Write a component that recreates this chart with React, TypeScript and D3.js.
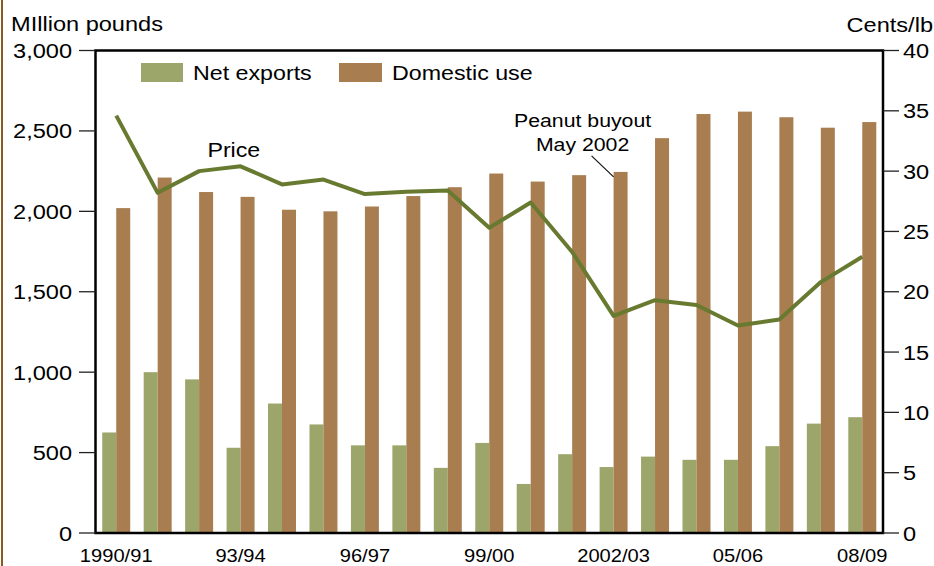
import React, { useEffect, useRef } from 'react';
import * as d3 from 'd3';

const years = [
  '1990/91', '91/92', '92/93', '93/94', '94/95', '95/96', '96/97', '97/98', '98/99', '99/00',
  '2000/01', '01/02', '2002/03', '03/04', '04/05', '05/06', '06/07', '07/08', '08/09',
];
const shownYears = ['1990/91', '93/94', '96/97', '99/00', '2002/03', '05/06', '08/09'];

// million pounds
const netExports = [625, 1000, 955, 530, 805, 675, 545, 545, 405, 560, 305, 490, 410, 475, 455, 455, 540, 680, 720];
const domesticUse = [2020, 2210, 2120, 2090, 2010, 2000, 2030, 2095, 2150, 2235, 2185, 2225, 2245, 2455, 2605, 2620, 2585, 2520, 2555];
// cents per pound
const price = [34.6, 28.2, 30.0, 30.4, 28.9, 29.3, 28.1, 28.3, 28.4, 25.3, 27.4, 23.3, 18.0, 19.3, 18.9, 17.2, 17.7, 20.8, 22.9];

const leftTicks = [0, 500, 1000, 1500, 2000, 2500, 3000];
const rightTicks = [0, 5, 10, 15, 20, 25, 30, 35, 40];

const W = 934;
const H = 566;
const SX = 1.15; // the source art is stretched sideways a bit
const FONT = '"Liberation Sans", Arial, Helvetica, sans-serif';
const GREEN = '#9ca66b';
const BROWN = '#a87d4f';
const LINE = '#687a30';

export default function App() {
  const svgRef = useRef<SVGSVGElement | null>(null);

  useEffect(() => {
    if (!svgRef.current) return;
    const svg = d3.select(svgRef.current);
    svg.selectAll('*').remove();

    const left = 95.5;
    const right = 883;
    const top = 50.5;
    const bottom = 533;

    const x = d3.scaleBand<string>()
      .domain(years)
      .range([left, right])
      .paddingInner(0.325)
      .paddingOuter(0.1625);
    const bw = x.bandwidth();
    const yL = d3.scaleLinear().domain([0, 3000]).range([bottom, top]);
    const yR = d3.scaleLinear().domain([0, 40]).range([bottom, top]);

    const text = (
      g: d3.Selection<any, any, any, any>,
      tx: number, ty: number, s: string, size: number, anchor = 'start'
    ) => g.append('text')
      .attr('transform', `translate(${tx},${ty}) scale(${SX},1)`)
      .attr('text-anchor', anchor)
      .style('font-family', FONT)
      .style('font-size', `${size}px`)
      .style('fill', '#000')
      .text(s);

    // brown rule on the left edge
    svg.append('rect').attr('x', 1).attr('y', 0).attr('width', 2).attr('height', H).style('fill', '#8b5a22');

    // bars
    const groups = svg.append('g').selectAll('g')
      .data(years)
      .enter()
      .append('g');
    groups.append('rect')
      .attr('x', d => x(d)!)
      .attr('y', (d, i) => yL(netExports[i]))
      .attr('width', bw / 2)
      .attr('height', (d, i) => bottom - yL(netExports[i]))
      .style('fill', GREEN);
    groups.append('rect')
      .attr('x', d => x(d)! + bw / 2)
      .attr('y', (d, i) => yL(domesticUse[i]))
      .attr('width', bw / 2)
      .attr('height', (d, i) => bottom - yL(domesticUse[i]))
      .style('fill', BROWN);

    // price line
    const line = d3.line<number>()
      .x((d, i) => x(years[i])! + bw / 2)
      .y(d => yR(d));
    svg.append('path')
      .datum(price)
      .attr('d', line)
      .style('fill', 'none')
      .style('stroke', LINE)
      .style('stroke-width', 4)
      .style('stroke-linejoin', 'round');

    // frame
    svg.append('rect')
      .attr('x', left).attr('y', top)
      .attr('width', right - left).attr('height', bottom - top)
      .style('fill', 'none').style('stroke', '#000').style('stroke-width', 2.5);

    // left axis
    const gl = svg.append('g');
    leftTicks.forEach(t => {
      gl.append('line').attr('x1', 79).attr('x2', left).attr('y1', yL(t)).attr('y2', yL(t))
        .style('stroke', '#222').style('stroke-width', 1.3);
      text(gl, 72, yL(t) + 7.5, d3.format(',')(t), 20.5, 'end');
    });

    // right axis
    const gr = svg.append('g');
    rightTicks.forEach(t => {
      gr.append('line').attr('x1', right).attr('x2', 899).attr('y1', yR(t)).attr('y2', yR(t))
        .style('stroke', '#222').style('stroke-width', 1.3);
      text(gr, 903, yR(t) + 7.5, String(t), 20.5, 'start');
    });

    // x labels
    const gx = svg.append('g');
    shownYears.forEach(s => {
      text(gx, x(s)! + bw / 2, 561.5, s, 17.5, 'middle');
    });

    // axis titles
    text(svg, 11, 30.5, 'MIllion pounds', 20.5);
    text(svg, 933, 31.5, 'Cents/lb', 20.5, 'end');

    // legend
    svg.append('rect').attr('x', 141).attr('y', 63).attr('width', 42).attr('height', 19).style('fill', GREEN);
    text(svg, 193, 80, 'Net exports', 20.2);
    svg.append('rect').attr('x', 339).attr('y', 63).attr('width', 43).attr('height', 19).style('fill', BROWN);
    text(svg, 392, 80, 'Domestic use', 20.2);

    // annotations
    text(svg, (x('92/93')! + x('93/94')!) / 2 + bw / 2 + 14, yR(31.2), 'Price', 20.2, 'middle');
    const bx = x('2002/03')! + bw / 2;
    const by = yL(2245);
    svg.append('line')
      .attr('x1', bx - 22).attr('y1', by - 16)
      .attr('x2', bx).attr('y2', by + 5)
      .style('stroke', '#111').style('stroke-width', 1.2);
    text(svg, bx - 31, by - 45, 'Peanut buyout', 18.5, 'middle');
    text(svg, bx - 31, by - 21, 'May 2002', 18.5, 'middle');
  }, []);

  return (
    <svg
      ref={svgRef}
      width={W}
      height={H}
      viewBox={`0 0 ${W} ${H}`}
      style={{ position: 'absolute', left: 0, top: 0, background: '#fff' }}
    />
  );
}
